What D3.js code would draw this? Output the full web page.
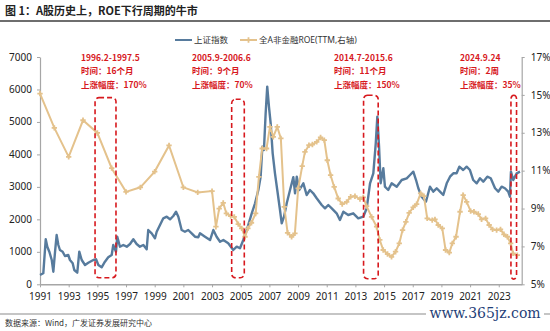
<!DOCTYPE html>
<html><head><meta charset="utf-8">
<script src="https://cdn.jsdelivr.net/npm/d3@7"></script>
<style>
body{margin:0;background:#fff;}
svg{display:block;}
text{font-family:"Noto Sans","Noto Sans CJK SC",sans-serif;}
</style></head>
<body><svg id="c" width="550" height="331"></svg>
<script>
// ---- data ----
const shYears = [1991.00,1991.23,1991.40,1991.51,1991.65,1991.82,1991.93,1992.05,1992.16,1992.28,1992.39,1992.58,1992.74,1992.97,1993.09,1993.28,1993.39,1993.60,1993.74,1993.91,1994.14,1994.37,1994.72,1994.91,1995.07,1995.30,1995.53,1995.76,1996.00,1996.11,1996.30,1996.39,1996.58,1996.81,1997.05,1997.28,1997.51,1997.74,1997.97,1998.21,1998.44,1998.55,1998.79,1999.02,1999.14,1999.37,1999.60,1999.84,2000.07,2000.30,2000.49,2000.65,2000.88,2001.11,2001.34,2001.58,2001.81,2002.04,2002.16,2002.51,2002.86,2003.09,2003.32,2003.56,2003.79,2004.13,2004.48,2004.72,2004.95,2005.18,2005.42,2005.77,2006.00,2006.23,2006.39,2006.51,2006.62,2006.74,2006.85,2006.97,2007.09,2007.23,2007.39,2007.55,2007.74,2007.86,2008.02,2008.21,2008.44,2008.67,2008.79,2008.91,2009.09,2009.37,2009.60,2009.83,2010.06,2010.30,2010.65,2010.88,2011.11,2011.35,2011.69,2011.92,2012.16,2012.50,2012.85,2013.20,2013.55,2013.79,2014.02,2014.25,2014.42,2014.53,2014.65,2014.76,2014.95,2015.06,2015.29,2015.53,2015.88,2016.23,2016.58,2016.81,2017.04,2017.23,2017.39,2017.62,2017.92,2018.20,2018.43,2018.67,2018.90,2019.13,2019.37,2019.60,2019.83,2020.06,2020.25,2020.52,2020.76,2020.99,2021.22,2021.46,2021.69,2021.92,2022.20,2022.44,2022.74,2022.97,2023.20,2023.43,2023.66,2023.78,2023.85,2024.01,2024.25,2024.48];
const shValues = [287,339,1386,1158,1004,748,388,1004,1518,1210,1056,1004,872,902,748,647,440,357,1004,748,594,665,748,770,594,524,696,832,902,1210,1004,1466,1158,1210,1158,1241,1386,1241,1158,1210,1078,1672,1571,1417,1620,1826,2033,2082,2002,2103,2236,2082,1672,1620,1672,1570,1466,1450,1571,1466,1364,1672,1466,1312,1364,1263,1056,1158,1109,1364,1672,2187,2495,2904,3314,4238,4136,5266,6086,5470,4958,4034,3418,2904,2288,1879,2082,2495,2904,3300,2803,3314,2904,3110,2750,2904,2803,2649,2442,2340,2442,2340,2187,1980,2236,2134,2187,2033,2082,2340,3110,3418,4342,5162,4238,3110,3573,3006,2904,3110,3006,3212,3265,3366,3468,3212,2957,2698,2544,3006,2852,2957,2852,2750,3110,3314,3418,3418,3622,3520,3622,3520,3212,3110,3265,3160,3314,3265,2957,2852,3006,2957,2852,2698,3468,3212,3418,3468];

const roeYears = [1991,1992,1993,1994,1995,1996,1997,1998,1999,2000,2001,2002,2003,2003.27,2003.50,2003.78,2004.00,2004.30,2004.55,2004.83,2005.07,2005.30,2005.50,2005.75,2006.04,2006.27,2006.50,2006.80,2007.04,2007.27,2007.55,2007.80,2008.04,2008.27,2008.55,2008.78,2009.01,2009.29,2009.48,2009.76,2010.00,2010.30,2010.57,2010.83,2011.04,2011.27,2011.52,2011.80,2012.08,2012.39,2012.67,2012.97,2013.32,2013.55,2013.78,2014.13,2014.48,2014.70,2014.94,2015.24,2015.52,2015.80,2016.06,2016.29,2016.52,2016.75,2017.03,2017.27,2017.55,2017.78,2018.01,2018.36,2018.55,2018.78,2019.06,2019.29,2019.55,2019.76,2020.02,2020.30,2020.52,2020.76,2021.04,2021.27,2021.57,2021.80,2022.08,2022.33,2022.57,2022.85,2023.12,2023.36,2023.60,2023.83,2024.00,2024.29];
const roeValues = [15.07,13.26,11.73,13.66,12.99,11.13,9.88,10.12,10.95,12.33,10.12,9.85,9.92,8.04,9.00,9.30,8.74,8.60,8.56,8.18,7.95,7.51,7.95,8.25,8.74,10.67,12.17,12.17,13.31,12.78,13.31,12.70,9.09,7.72,7.51,7.69,10.06,11.24,11.99,12.34,12.38,12.52,12.75,12.61,11.55,10.76,10.14,9.53,9.23,9.35,9.62,9.65,9.50,9.59,9.13,8.56,8.04,7.34,6.81,6.60,6.45,6.72,7.16,7.86,8.30,8.77,9.06,9.23,9.80,9.65,8.48,8.39,8.43,8.13,7.95,6.81,6.67,7.16,7.51,8.83,9.71,9.35,8.86,8.83,8.71,8.43,8.48,8.13,7.90,7.86,7.90,7.64,7.51,7.16,6.63,6.54];

const xTicks = [1991,1993,1995,1997,1999,2001,2003,2005,2007,2009,2011,2013,2015,2017,2019,2021,2023];
const leftTicks = [0,1000,2000,3000,4000,5000,6000,7000];
const rightTicks = [5,7,9,11,13,15,17];

const annLabels = ["1996.2-1997.5","2005.9-2006.6","2014.7-2015.6","2024.9.24"];
const annDurations = ["时间：16个月","时间：9个月","时间：11个月","时间：2周"];
const annGains = ["上涨幅度：170%","上涨幅度：70%","上涨幅度：150%","上涨幅度：35%"];
const annStart = [1994.84,2004.37,2013.57,2023.85];
const annEnd = [1996.30,2005.25,2014.59,2024.24];
const annTextYear = [1993.86,2001.60,2011.50,2020.29];
const annTop = [5750,5700,5820,5820];
const annBottom = [200,200,170,160];

const legendNames = ["上证指数","全A非金融ROE(TTM,右轴)"];

// ---- drawing ----
const svg = d3.select("#c");
const blue = "#577b9d", gold = "#e4c28c", red = "#d7191e", axisCol = "#a6a6a6";
const x = d3.scaleLinear().domain([1991, 2024.6]).range([40, 521.7]);
const yL = d3.scaleLinear().domain([0, 7000]).range([284.3, 57]);
const yR = d3.scaleLinear().domain([5, 17]).range([284.3, 57]);

// title
svg.append("text").attr("x", 5).attr("y", 15).attr("font-size", 11).attr("font-weight", "bold")
  .attr("fill", "#222").style("font-family", '"Noto Sans CJK SC",sans-serif')
  .text("图 1：A股历史上，ROE下行周期的牛市");
svg.append("line").attr("x1", 0).attr("x2", 550).attr("y1", 21).attr("y2", 21)
  .attr("stroke", "#6e6e6e").attr("stroke-width", 2);

// axes
function styleAxis(g){
  g.selectAll(".domain").attr("stroke", axisCol).attr("stroke-width", 1.2);
  g.selectAll(".tick line").attr("stroke", axisCol);
  g.selectAll("text").attr("fill", "#222").attr("font-size", 10)
   .style("font-family", '"Noto Sans",sans-serif');
}
svg.append("g").attr("transform", "translate(40,0)")
  .call(d3.axisLeft(yL).tickValues(leftTicks).tickSize(3).tickSizeOuter(0).tickPadding(5).tickFormat(d3.format("d")))
  .call(styleAxis)
  .call(g => g.selectAll(".tick text").attr("dy", "0.3em"));
svg.append("g").attr("transform", "translate(521.7,0)")
  .call(d3.axisRight(yR).tickValues(rightTicks).tickSize(3).tickSizeOuter(0).tickPadding(6).tickFormat(d => d + "%"))
  .call(styleAxis);
svg.append("g").attr("transform", "translate(0,284.3)")
  .call(d3.axisBottom(x).tickValues(xTicks).tickSize(3).tickSizeOuter(0).tickPadding(6).tickFormat(d3.format("d")))
  .call(styleAxis)
  .call(g => g.select(".domain").attr("stroke-width", 1.6));

// Shanghai index line
const shData = shYears.map((d, i) => [d, shValues[i]]);
svg.append("path").datum(shData)
  .attr("d", d3.line().x(d => x(d[0])).y(d => yL(d[1])))
  .attr("fill", "none").attr("stroke", blue).attr("stroke-width", 2.4).attr("stroke-linejoin", "round");

// ROE line
const roeData = roeYears.map((d, i) => [d, roeValues[i]]);
svg.append("path").datum(roeData)
  .attr("d", d3.line().x(d => x(d[0])).y(d => yR(d[1])))
  .attr("fill", "none").attr("stroke", gold).attr("stroke-width", 2);
const sym = d3.symbol().type(d3.symbolCross).size(16);
svg.append("g").selectAll("path").data(roeData).join("path")
  .attr("transform", d => `translate(${x(d[0])},${yR(d[1])})`)
  .attr("d", sym).attr("fill", gold);

// annotations
annLabels.forEach((lab, i) => {
  const x0 = x(annStart[i]), x1 = x(annEnd[i]);
  svg.append("rect").attr("x", x0).attr("y", yL(annTop[i]))
    .attr("width", x1 - x0).attr("height", yL(annBottom[i]) - yL(annTop[i]))
    .attr("rx", 4).attr("ry", 4).attr("fill", "none")
    .attr("stroke", red).attr("stroke-width", 1.6).attr("stroke-dasharray", "5,3");
  const tx = x(annTextYear[i]);
  [lab, annDurations[i], annGains[i]].forEach((t, j) => {
    svg.append("text").attr("x", tx).attr("y", 60.5 + j * 13.5)
      .attr("font-size", 8.5).attr("font-weight", "bold").attr("fill", red)
      .style("font-family", '"Noto Sans CJK SC",sans-serif').text(t);
  });
});

// legend
const lg = svg.append("g").style("font-family", '"Noto Sans CJK SC",sans-serif');
lg.append("line").attr("x1", 175).attr("x2", 192).attr("y1", 40).attr("y2", 40).attr("stroke", blue).attr("stroke-width", 2);
lg.append("text").attr("x", 194).attr("y", 43).attr("font-size", 8.5).attr("fill", "#333").text(legendNames[0]);
lg.append("line").attr("x1", 240).attr("x2", 257).attr("y1", 40).attr("y2", 40).attr("stroke", gold).attr("stroke-width", 2);
lg.append("path").attr("transform", "translate(248.5,40)").attr("d", sym).attr("fill", gold);
lg.append("text").attr("x", 259).attr("y", 43).attr("font-size", 8.5).attr("fill", "#333").text(legendNames[1]);

// footer
svg.append("line").attr("x1", 0).attr("x2", 550).attr("y1", 314).attr("y2", 314)
  .attr("stroke", "#8c8c8c").attr("stroke-width", 1.2);
svg.append("text").attr("x", 5).attr("y", 326).attr("font-size", 8).attr("fill", "#333")
  .style("font-family", '"Noto Sans CJK SC",sans-serif').text("数据来源：Wind，广发证券发展研究中心");
svg.append("rect").attr("x", 426).attr("y", 305).attr("width", 118).attr("height", 16).attr("fill", "#fff");
svg.append("text").attr("x", 485).attr("y", 318).attr("text-anchor", "middle").attr("font-size", 14)
  .attr("fill", "#1f3f78").style("font-family", '"DejaVu Serif",serif').text("www.365jz.com");
</script></body></html>
